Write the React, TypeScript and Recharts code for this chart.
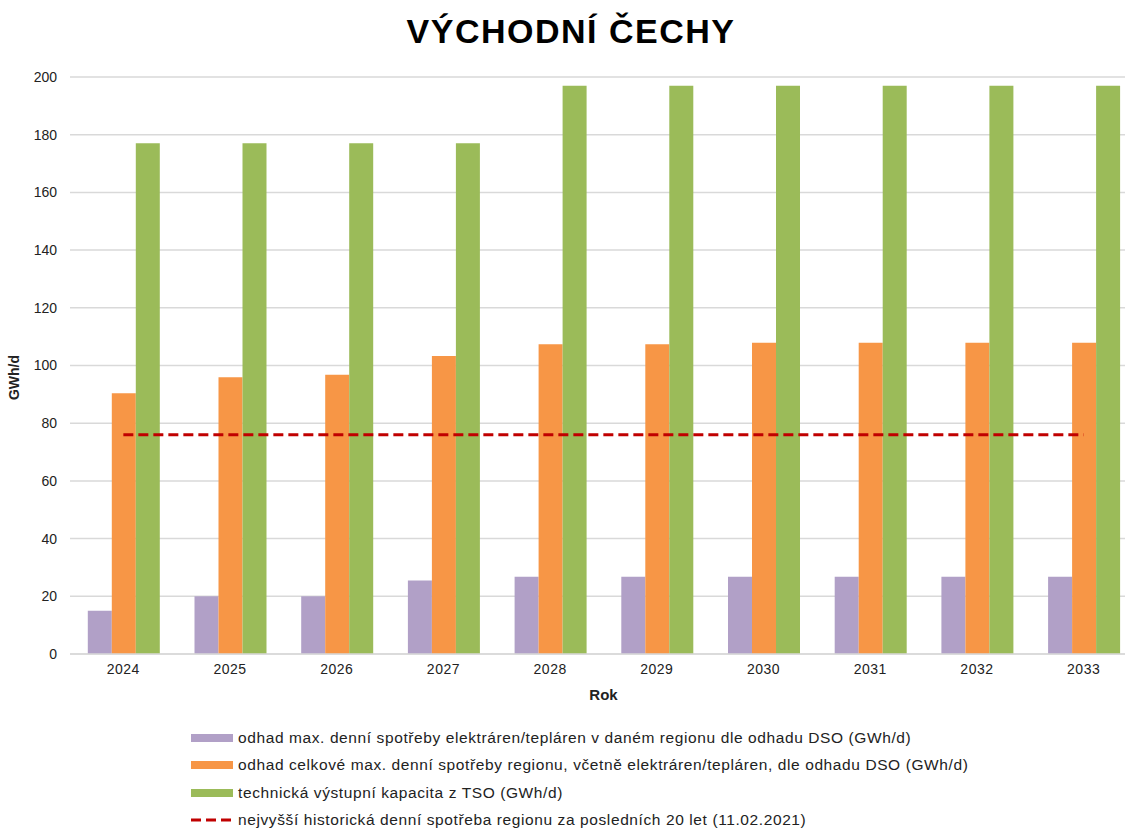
import React from "react";
import {
  ComposedChart,
  Bar,
  Line,
  XAxis,
  YAxis,
  CartesianGrid
} from "recharts";

/* ---------- DATA ---------- */

const years = ["2024", "2025", "2026", "2027", "2028", "2029", "2030", "2031", "2032", "2033"];

const plantDemand = [15, 20, 20, 25.5, 26.8, 26.8, 26.8, 26.8, 26.8, 26.8];
const totalDemand = [90.4, 95.9, 96.8, 103.3, 107.4, 107.4, 107.9, 107.9, 107.9, 107.9];
const tsoCapacity = [177, 177, 177, 177, 197, 197, 197, 197, 197, 197];
const historicalPeak = [76, 76, 76, 76, 76, 76, 76, 76, 76, 76];

const yTicks = [0, 20, 40, 60, 80, 100, 120, 140, 160, 180, 200];

const seriesNames = [
  "odhad max. denní spotřeby elektráren/tepláren v daném regionu dle odhadu DSO (GWh/d)",
  "odhad celkové max. denní spotřeby regionu, včetně elektráren/tepláren, dle odhadu DSO (GWh/d)",
  "technická výstupní kapacita z TSO (GWh/d)",
  "nejvyšší historická denní spotřeba regionu za posledních 20 let (11.02.2021)"
];

const COLORS = {
  purple: "#b1a0c7",
  orange: "#f79646",
  green: "#9bbb59",
  red: "#c00000",
  grid: "#d9d9d9"
};

const FONT = "Arial, 'Liberation Sans', sans-serif";

/* ---------- LEGEND ---------- */

function LegendRow({ name, kind, color }: any) {
  return (
    <div style={{ display: "flex", alignItems: "center", height: 27.5 }}>
      <svg width={42} height={10} style={{ marginRight: 5 }}>
        {kind === "bar" ? (
          <rect x={0} y={1} width={42} height={8} fill={color} />
        ) : (
          <line
            x1={0}
            y1={5}
            x2={42}
            y2={5}
            stroke={color}
            strokeWidth={3}
            strokeDasharray="10 5"
          />
        )}
      </svg>
      <span>{name}</span>
    </div>
  );
}

export default function App() {
  /* ---------- TABLE ---------- */

  const chartData = years.map((year, i) => ({
    year,
    plant: plantDemand[i],
    total: totalDemand[i],
    tso: tsoCapacity[i],
    peak: historicalPeak[i]
  }));

  return (
    <div
      style={{
        position: "absolute",
        left: 0,
        top: 0,
        width: 1125,
        height: 831,
        overflow: "hidden",
        background: "#fff",
        fontFamily: FONT
      }}
    >
      {/* TITLE */}

      <div
        style={{
          position: "absolute",
          left: 0,
          width: 1142,
          top: 12,
          textAlign: "center",
          fontSize: 34,
          letterSpacing: 1.5,
          fontWeight: "bold",
          color: "#000"
        }}
      >
        VÝCHODNÍ ČECHY
      </div>

      {/* CHART */}

      <div style={{ position: "absolute", left: 0, top: 0 }}>
        <ComposedChart
          width={1150}
          height={831}
          data={chartData}
          margin={{ top: 77, right: 13, left: 10, bottom: 127 }}
          barCategoryGap={17.8}
          barGap={0}
        >
          <CartesianGrid stroke={COLORS.grid} vertical={false} strokeWidth={1.5} />

          <XAxis
            dataKey="year"
            height={50}
            axisLine={{ stroke: COLORS.grid, strokeWidth: 1.5 }}
            tickLine={false}
            tickMargin={4}
            tick={{ fill: "#222", fontSize: 14, letterSpacing: 0.5, fontFamily: FONT }}
            label={{
              value: "Rok",
              position: "insideBottom",
              offset: 4,
              style: { fill: "#222", fontSize: 15, fontWeight: "bold", fontFamily: FONT }
            }}
          />

          <YAxis
            width={60}
            domain={[0, 200]}
            ticks={yTicks}
            axisLine={false}
            tickLine={false}
            tickMargin={7}
            tick={{ fill: "#222", fontSize: 14, fontFamily: FONT }}
            label={{
              value: "GWh/d",
              angle: -90,
              position: "insideLeft",
              offset: 0,
              dy: 12,
              dx: 4,
              style: { fill: "#222", fontSize: 14, fontWeight: "bold", fontFamily: FONT, textAnchor: "middle" }
            }}
          />

          <Bar dataKey="plant" name={seriesNames[0]} fill={COLORS.purple} isAnimationActive={false} />
          <Bar dataKey="total" name={seriesNames[1]} fill={COLORS.orange} isAnimationActive={false} />
          <Bar dataKey="tso" name={seriesNames[2]} fill={COLORS.green} isAnimationActive={false} />

          <Line
            dataKey="peak"
            name={seriesNames[3]}
            stroke={COLORS.red}
            strokeWidth={3}
            strokeDasharray="10 5"
            dot={false}
            activeDot={false}
            isAnimationActive={false}
          />
        </ComposedChart>
      </div>

      {/* LEGEND */}

      <div
        style={{
          position: "absolute",
          left: 191,
          top: 724,
          fontSize: 15.5,
          letterSpacing: 0.6,
          color: "#222"
        }}
      >
        <LegendRow name={seriesNames[0]} kind="bar" color={COLORS.purple} />
        <LegendRow name={seriesNames[1]} kind="bar" color={COLORS.orange} />
        <LegendRow name={seriesNames[2]} kind="bar" color={COLORS.green} />
        <LegendRow name={seriesNames[3]} kind="line" color={COLORS.red} />
      </div>
    </div>
  );
}
